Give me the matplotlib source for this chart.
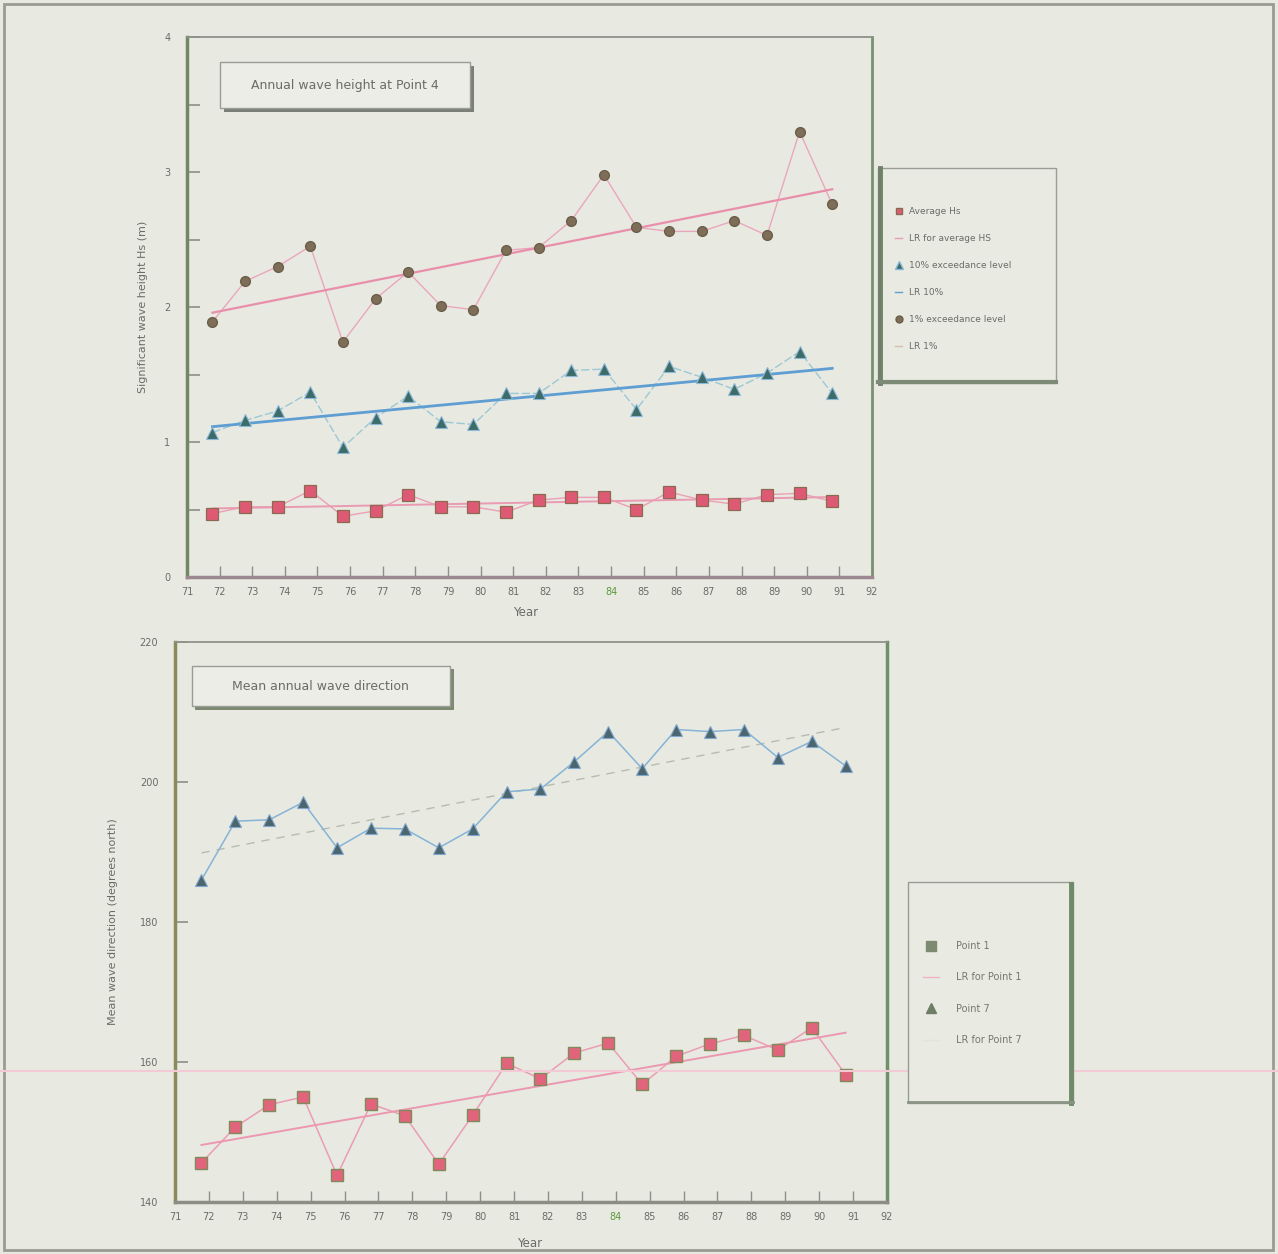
import numpy as np
import matplotlib
matplotlib.use('Agg')
import matplotlib.pyplot as plt
from matplotlib.lines import Line2D
from matplotlib.patches import Rectangle

# ---------------- data ----------------
years = np.arange(72, 92)
avg_hs = [0.47, 0.52, 0.52, 0.64, 0.45, 0.49, 0.61, 0.52, 0.52, 0.48,
          0.57, 0.59, 0.59, 0.50, 0.63, 0.57, 0.54, 0.61, 0.62, 0.56]
exc10 = [1.07, 1.16, 1.23, 1.37, 0.96, 1.18, 1.34, 1.15, 1.13, 1.36,
         1.36, 1.53, 1.54, 1.24, 1.56, 1.48, 1.39, 1.51, 1.67, 1.36]
exc1 = [1.89, 2.19, 2.30, 2.45, 1.74, 2.06, 2.26, 2.01, 1.98, 2.42,
        2.44, 2.64, 2.98, 2.59, 2.56, 2.56, 2.64, 2.53, 3.30, 2.76]
point1 = [145.6, 150.7, 153.9, 155.0, 143.8, 154.0, 152.3, 145.4, 152.4, 159.8,
          157.6, 161.3, 162.7, 156.8, 160.8, 162.6, 163.8, 161.7, 164.9, 158.2]
point7 = [186.0, 194.4, 194.6, 197.1, 190.6, 193.4, 193.3, 190.6, 193.3, 198.6,
          199.0, 202.9, 207.2, 201.9, 207.5, 207.2, 207.5, 203.5, 205.8, 202.3]
xtick_years = list(range(71, 93))
top_legend_labels = ["Average Hs", "LR for average HS", "10% exceedance level",
                     "LR 10%", "1% exceedance level", "LR 1%"]
bot_legend_labels = ["Point 1", "LR for Point 1", "Point 7", "LR for Point 7"]

# ---------------- style ----------------
W, H = 1278, 1254
BG = '#e8e9e1'
TXT = '#6a6c66'
plt.rcParams['font.family'] = ['DejaVu Sans']

fig = plt.figure(figsize=(W / 100, H / 100), dpi=100, facecolor=BG)


def fx(x):
    return x / W


def fy(y):
    return 1 - y / H


def fig_rect(x0, y0, x1, y1, **kw):
    r = Rectangle((fx(x0), fy(y1)), fx(x1) - fx(x0), fy(y0) - fy(y1),
                  transform=fig.transFigure, **kw)
    fig.add_artist(r)
    return r


def fig_line(xs, ys, **kw):
    fig.add_artist(Line2D([fx(v) for v in xs], [fy(v) for v in ys],
                          transform=fig.transFigure, **kw))


# outer frame
fig_rect(4, 4, 1273, 1250, fill=False, edgecolor='#9a9c94', lw=2, zorder=0)
# faint scan line
fig_line([0, W], [1071, 1071], color='#f2c9d5', lw=1.5, zorder=0.5)

xoff = -0.22
xs = years + xoff


def style_axes(ax, spine_cols, spine_lw):
    ax.set_facecolor(BG)
    for k in ['left', 'right', 'top', 'bottom']:
        ax.spines[k].set_color(spine_cols[k])
        ax.spines[k].set_linewidth(spine_lw[k])
    ax.set_xlim(71, 92)
    ax.set_xticks(xtick_years)
    ax.set_xticklabels([str(v) for v in xtick_years])
    ax.tick_params(axis='x', direction='in', length=8, width=1, color='#8d8f88',
                   labelsize=7, labelcolor=TXT, pad=7)
    ax.tick_params(axis='y', which='both', direction='in', length=9, width=1.2,
                   color='#8d8f88', labelsize=7, labelcolor=TXT, pad=12)
    for lab in ax.get_xticklabels():
        if lab.get_text() == '84':
            lab.set_color('#5a9a3a')


# ---------------- top chart ----------------
ax1 = fig.add_axes([fx(187), fy(577), fx(872) - fx(187), fy(37) - fy(577)])
style_axes(ax1,
           {'left': '#6f8a62', 'bottom': '#9c8890', 'top': '#8e928a', 'right': '#7a9070'},
           {'left': 2.5, 'bottom': 2.5, 'top': 1.3, 'right': 2.0})
ax1.set_ylim(0, 4)
ax1.set_yticks([0, 1, 2, 3, 4])
ax1.set_yticks(np.arange(0.5, 4, 1.0), minor=True)
ax1.tick_params(axis='y', which='minor', length=9, width=1.2)

pink_line = '#ea9bb2'
# 1% exceedance
ax1.plot(xs, exc1, color='#eaa7bb', lw=1.0, zorder=2)
ax1.plot(xs, exc1, ls='none', marker='o', ms=7, mfc='#7e6e58', mec='#6a5e4a', zorder=4)
c = np.polyfit(xs, exc1, 1)
ax1.plot(xs[[0, -1]], np.polyval(c, xs[[0, -1]]), color='#e88fac', lw=1.6, zorder=3)
# 10% exceedance
ax1.plot(xs, exc10, color='#9cc8d4', lw=1.0, ls=(0, (6, 2)), zorder=2)
ax1.plot(xs, exc10, ls='none', marker='^', ms=8, mfc='#3d6b68', mec='#8cb8d8', mew=0.8, zorder=4)
c = np.polyfit(xs, exc10, 1)
ax1.plot(xs[[0, -1]], np.polyval(c, xs[[0, -1]]), color='#5e9ed2', lw=2.0, zorder=3)
# Average Hs
ax1.plot(xs, avg_hs, color='#ec9fb5', lw=1.0, zorder=2)
ax1.plot(xs, avg_hs, ls='none', marker='s', ms=8, mfc='#de5a74', mec='#8a6a50', mew=0.9, zorder=4)
c = np.polyfit(xs, avg_hs, 1)
ax1.plot(xs[[0, -1]], np.polyval(c, xs[[0, -1]]), color=pink_line, lw=1.4, zorder=3)

ax1.set_xlabel('Year', fontsize=8.5, color=TXT, labelpad=2)
ax1.xaxis.set_label_coords(0.495, -0.053)
ax1.set_ylabel('Significant wave height Hs (m)', fontsize=8, color=TXT)
ax1.yaxis.set_label_coords(-0.057, 0.5)

# title box top
fig_rect(224, 66, 474, 112, facecolor='#7c7f78', edgecolor='none', zorder=5)
fig_rect(220, 62, 470, 108, facecolor='#ecede6', edgecolor='#9a9d95', lw=1, zorder=6)
fig.text(fx(345), fy(85), 'Annual wave height at Point 4', fontsize=9, color='#6a6c66',
         ha='center', va='center', zorder=7)

# top legend box
fig_rect(878, 168, 1056, 383, facecolor='#e9eae2', edgecolor='#9a9d95', lw=1, zorder=5)
fig_line([880, 880], [168, 383], color='#6f8268', lw=3.5, zorder=6)
fig_line([878, 1056], [382, 382], color='#7d8a76', lw=3, zorder=6)
top_handles = [
    Line2D([], [], ls='none', marker='s', ms=5, mfc='#de5a74', mec='#8a6a50'),
    Line2D([], [], color=pink_line, lw=1),
    Line2D([], [], ls='none', marker='^', ms=5.5, mfc='#3d6b68', mec='#8cb8d8'),
    Line2D([], [], color='#5e9ed2', lw=1),
    Line2D([], [], ls='none', marker='o', ms=5, mfc='#7e6e58', mec='#6a5e4a'),
    Line2D([], [], color='#d8c0b0', lw=1),
]
leg1 = fig.legend(top_handles, top_legend_labels, loc='upper left',
                  bbox_to_anchor=(fx(895), fy(207)), frameon=False, fontsize=6.5,
                  handlelength=0.8, handletextpad=0.8, labelspacing=2.0,
                  borderpad=0, borderaxespad=0)
for t in leg1.get_texts():
    t.set_color(TXT)
leg1.set_zorder(8)

# ---------------- bottom chart ----------------
ax2 = fig.add_axes([fx(175), fy(1202), fx(887) - fx(175), fy(642) - fy(1202)])
style_axes(ax2,
           {'left': '#8a8a5c', 'bottom': '#8c8e86', 'top': '#8f938a', 'right': '#6f9068'},
           {'left': 2.5, 'bottom': 2.5, 'top': 1.3, 'right': 2.5})
ax2.set_ylim(140, 220)
ax2.set_yticks([140, 160, 180, 200, 220])

# Point 7
ax2.plot(xs, point7, color='#86b4d6', lw=1.1, zorder=2)
ax2.plot(xs, point7, ls='none', marker='^', ms=8, mfc='#4c6670', mec='#7fa6cc', mew=0.8, zorder=4)
c = np.polyfit(xs, point7, 1)
ax2.plot(xs[[0, -1]], np.polyval(c, xs[[0, -1]]), color='#b8bcb0', lw=1.0,
         ls=(0, (6, 5)), zorder=1.5)
# Point 1
ax2.plot(xs, point1, color='#eb9db3', lw=1.1, zorder=2)
ax2.plot(xs, point1, ls='none', marker='s', ms=8.5, mfc='#e2647c', mec='#7e8a5a', mew=1.0, zorder=4)
c = np.polyfit(xs, point1, 1)
ax2.plot(xs[[0, -1]], np.polyval(c, xs[[0, -1]]), color='#ec98b0', lw=1.4, zorder=3)

ax2.set_xlabel('Year', fontsize=8.5, color=TXT)
ax2.xaxis.set_label_coords(0.498, -0.062)
ax2.set_ylabel('Mean wave direction (degrees north)', fontsize=8, color=TXT)
ax2.yaxis.set_label_coords(-0.08, 0.5)

# title box bottom
fig_rect(195, 669, 454, 710, facecolor='#7c8a72', edgecolor='none', zorder=5)
fig_rect(192, 666, 450, 706, facecolor='#ecede6', edgecolor='#9a9d95', lw=1, zorder=6)
fig.text(fx(320), fy(686), 'Mean annual wave direction', fontsize=9, color='#6a6c66',
         ha='center', va='center', zorder=7)

# bottom legend box
fig_rect(908, 882, 1073, 1103, facecolor='#e9eae2', edgecolor='#9a9d95', lw=1, zorder=5)
fig_line([1071, 1071], [884, 1103], color='#6f8a68', lw=3.5, zorder=6)
fig_line([908, 1073], [1102, 1102], color='#8a9484', lw=2, zorder=6)
bot_handles = [
    Line2D([], [], ls='none', marker='s', ms=7.5, mfc='#7b8a70', mec='#7b8a70'),
    Line2D([], [], color='#efb3c3', lw=1),
    Line2D([], [], ls='none', marker='^', ms=7, mfc='#6d7d66', mec='#6d7d66'),
    Line2D([], [], color='#e2e3db', lw=1),
]
leg2 = fig.legend(bot_handles, bot_legend_labels, loc='upper left',
                  bbox_to_anchor=(fx(923), fy(941)), frameon=False, fontsize=7,
                  handlelength=1.6, handletextpad=1.8, labelspacing=2.2,
                  borderpad=0, borderaxespad=0)
for t in leg2.get_texts():
    t.set_color('#747a6e')
leg2.set_zorder(8)

fig.savefig('out.png', dpi=100, facecolor=BG)
